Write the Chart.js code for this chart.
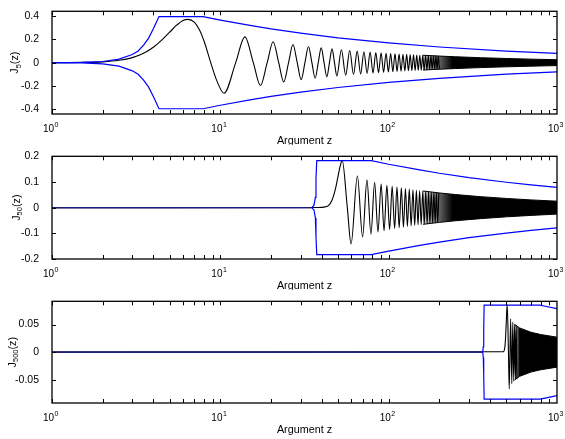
<!DOCTYPE html>
<html>
<head>
<meta charset="utf-8">
<script src="https://cdn.jsdelivr.net/npm/chart.js@4.4.1/dist/chart.umd.min.js"></script>
<style>
  body { margin: 0; background: #fff; width: 565px; height: 439px; overflow: hidden; }
  canvas { position: absolute; left: 0; }
</style>
</head>
<body>
<canvas id="c5" width="565" height="145" style="top:0"></canvas>
<canvas id="c50" width="565" height="145" style="top:145px"></canvas>
<canvas id="c500" width="565" height="145" style="top:290px"></canvas>
<script>
'use strict'

Chart.defaults.font.family = '"Liberation Sans", Arial, Helvetica, sans-serif';
Chart.defaults.font.size = 10.5;
Chart.defaults.color = '#000';

// x axis (log), major labels 10^k
const xMajor = [1, 10, 100, 1000];
const xMajorExp = ['0', '1', '2', '3'];

// J_5(z): curve points (rise, then extrema / zero crossings)
const j5X = [1, 1.5, 2, 2.5, 3, 3.5, 4, 4.5, 5, 5.5, 6, 6.42, 7, 7.5, 8, 8.77, 9.5,
  10.52, 12.34, 13.99, 15.7, 17.31, 18.98, 20.58, 22.22, 23.8, 25.43, 27.01, 28.63, 30.2, 31.81,
  33.39, 34.99, 36.57, 38.16, 39.74, 41.33, 42.91, 44.49, 46.07, 47.65, 49.23,
  52.38, 55.54, 58.69, 61.85, 65.0, 68.15, 71.3, 74.45, 77.6, 80.74, 83.89, 87.04, 90.18, 93.33,
  96.47, 99.62, 102.76, 105.91, 109.05, 112.2, 115.34, 118.48, 121.63, 124.77, 127.91, 131.06,
  134.2, 137.34, 140.49, 143.63, 146.77, 149.92, 153.06, 156.2, 159.35, 162.49, 165.63, 168.77,
  171.92, 175.06, 178.2, 181.35, 184.49, 187.63, 190.77, 193.92, 197.06, 200.2];
const j5Y = [0, 0.002, 0.007, 0.02, 0.043, 0.08, 0.132, 0.195, 0.261, 0.321, 0.362, 0.371, 0.348, 0.283, 0.186, 0, -0.15,
  -0.262, 0, 0.221, 0, -0.196, 0, 0.179, 0, -0.165, 0, 0.155, 0, -0.146, 0,
  0.139, 0, -0.133, 0, 0.127, 0, -0.122, 0, 0.118, 0, -0.114,
  0.110, -0.107, 0.104, -0.101, 0.099, -0.097, 0.094, -0.092, 0.091, -0.089, 0.087, -0.086, 0.084, -0.083,
  0.081, -0.080, 0.079, -0.078, 0.076, -0.075, 0.074, -0.073, 0.072, -0.071, 0.071, -0.070,
  0.069, -0.068, 0.067, -0.067, 0.066, -0.065, 0.064, -0.064, 0.063, -0.063, 0.062, -0.061,
  0.061, -0.060, 0.060, -0.059, 0.059, -0.058, 0.058, -0.057, 0.057, -0.056];
// dense part: half-width of the black band
const j5BandX = [160, 200, 250, 350, 500, 700, 1000];
const j5BandAmp = [0.0631, 0.0564, 0.0505, 0.0426, 0.0357, 0.0302, 0.0252];
// blue bound
const j5EnvX = [1, 1.5, 2, 2.5, 3, 3.25, 3.5, 3.75, 4, 4.15, 4.32, 7.9, 10, 15, 20, 30, 50, 100, 200, 500, 1000];
const j5EnvY = [0, 0.002, 0.01, 0.03, 0.07, 0.1, 0.15, 0.21, 0.29, 0.34, 0.395, 0.395, 0.365, 0.319, 0.289, 0.253, 0.213, 0.169, 0.134, 0.099, 0.079];
const j5YTicks = [-0.4, -0.2, 0, 0.2, 0.4];
const j5YLabels = ['-0.4', '-0.2', '0', '0.2', '0.4'];

// J_50(z)
const j50X = [1, 38, 42, 44, 46, 48, 50, 51.5, 53, 56.8, 59.8,
  65.2, 70.0, 74.3, 78.5, 82.5, 86.4, 90.2, 93.9, 97.6, 101.3,
  104.9, 108.5, 112.0, 115.5, 118.9, 122.4, 125.8, 129.2, 132.6, 136.0,
  139.4, 142.8, 146.1, 149.4, 152.7, 156.0, 159.4, 162.7, 166.0, 169.3,
  172.6, 175.8, 179.1, 182.4, 185.6, 188.9, 192.1, 195.4, 198.7];
const j50Y = [0, 0.0003, 0.003, 0.009, 0.028, 0.066, 0.121, 0.162, 0.183, 0, -0.141,
  0.123, -0.114, 0.108, -0.103, 0.099, -0.095, 0.092, -0.090, 0.087, -0.085,
  0.083, -0.081, 0.080, -0.078, 0.077, -0.076, 0.074, -0.073, 0.072, -0.071,
  0.070, -0.069, 0.068, -0.067, 0.066, -0.066, 0.065, -0.064, 0.063, -0.063,
  0.062, -0.062, 0.061, -0.060, 0.060, -0.059, 0.059, -0.058, 0.058];
const j50BandX = [160, 200, 250, 350, 500, 700, 1000];
const j50BandAmp = [0.0648, 0.0573, 0.0510, 0.0429, 0.0358, 0.0302, 0.0252];
const j50EnvX = [1, 34.9, 36.0, 36.7, 37.0, 37.4, 78.9, 100, 150, 200, 300, 500, 700, 1000];
const j50EnvY = [0, 0, 0.009, 0.04, 0.114, 0.183, 0.183, 0.169, 0.148, 0.134, 0.117, 0.099, 0.0885, 0.0786];
const j50YTicks = [-0.2, -0.1, 0, 0.1, 0.2];
const j50YLabels = ['-0.2', '-0.1', '0', '0.1', '0.2'];

// J_500(z)
const j500X = [1, 480, 490, 495, 500, 503, 506.4, 514.7, 520.5, 530.4, 538.8, 546.4, 553.5, 560.1, 566.3, 572.3, 578.0];
const j500Y = [0, 0.0007, 0.009, 0.027, 0.056, 0.075, 0.085, 0, -0.0665, 0.0604, -0.0568, 0.0543, -0.0525, 0.0509, -0.0497, 0.0487, -0.0477];
const j500BandX = [560, 600, 700, 800, 1000];
const j500BandAmp = [0.0502, 0.0438, 0.0360, 0.0319, 0.0271];
const j500EnvX = [1, 362, 365, 367, 369, 790, 850, 1000];
const j500EnvY = [0, 0, 0.01, 0.04, 0.085, 0.085, 0.0831, 0.0786];
const j500YTicks = [-0.05, 0, 0.05];
const j500YLabels = ['-0.05', '0', '0.05'];

const FONT = '"Liberation Sans", Arial, Helvetica, sans-serif';

const panels = [
  { id: 'c5', sub: '5', x: j5X, y: j5Y, bandX: j5BandX, band: j5BandAmp, envX: j5EnvX, env: j5EnvY,
    yMin: -0.44, yMax: 0.44, yTicks: j5YTicks, yLabels: j5YLabels, titleX: 18.3, xH: 31, fadeTo: 240 },
  { id: 'c50', sub: '50', x: j50X, y: j50Y, bandX: j50BandX, band: j50BandAmp, envX: j50EnvX, env: j50EnvY,
    yMin: -0.2, yMax: 0.2, yTicks: j50YTicks, yLabels: j50YLabels, titleX: 19.5, xH: 31, fadeTo: 240 },
  { id: 'c500', sub: '500', x: j500X, y: j500Y, bandX: j500BandX, band: j500BandAmp, envX: j500EnvX, env: j500EnvY,
    yMin: -0.092, yMax: 0.092, yTicks: j500YTicks, yLabels: j500YLabels, titleX: 15.5, xH: 32, fadeTo: 600 },
];

const pts = (xs, ys) => xs.map((x, i) => ({ x: x, y: ys[i] }));

// flat part where both bounds lie on the zero line looks navy
const flatNavy = c => (c.p0.parsed.y === 0 && c.p1.parsed.y === 0) ? '#1c1c78' : undefined;

// band gets darker as the oscillations pack together
const bandFill = p => c => {
  const ch = c.chart;
  if (!ch.chartArea) return '#000';
  const xs = ch.scales.x;
  const g = ch.ctx.createLinearGradient(xs.getPixelForValue(p.bandX[0]), 0, xs.getPixelForValue(p.fadeTo), 0);
  g.addColorStop(0, 'rgba(0,0,0,0.15)');
  g.addColorStop(1, 'rgba(0,0,0,1)');
  return g;
};

// box, inward ticks, 10^k labels and axis titles
const framePlugin = {
  id: 'frame',
  afterDraw(chart) {
    const ctx = chart.ctx, a = chart.chartArea;
    const xs = chart.scales.x, ys = chart.scales.y;
    const p = chart.options.plugins.frame;
    ctx.save();
    ctx.strokeStyle = '#000';
    ctx.lineWidth = 1;
    ctx.beginPath();
    for (let d = 1; d <= 100; d *= 10) {
      for (let m = 1; m <= 9; m++) {
        const px = Math.round(xs.getPixelForValue(m * d)) + 0.5;
        ctx.moveTo(px, a.top); ctx.lineTo(px, a.top + 4);
        ctx.moveTo(px, a.bottom); ctx.lineTo(px, a.bottom - 4);
      }
    }
    ys.ticks.forEach(t => {
      const py = Math.round(ys.getPixelForValue(t.value)) + 0.5;
      ctx.moveTo(a.left, py); ctx.lineTo(a.left + 4, py);
      ctx.moveTo(a.right, py); ctx.lineTo(a.right - 4, py);
    });
    ctx.stroke();
    ctx.lineWidth = 1.3;
    ctx.strokeRect(a.left, a.top, a.right - a.left, a.bottom - a.top);

    ctx.fillStyle = '#000';
    ctx.textBaseline = 'alphabetic';
    ctx.textAlign = 'left';
    xMajor.forEach((v, i) => {
      const px = xs.getPixelForValue(v);
      ctx.font = '10px ' + FONT;
      const w1 = ctx.measureText('10').width;
      ctx.font = '7px ' + FONT;
      const w2 = ctx.measureText(xMajorExp[i]).width;
      const x0 = px - (w1 + w2) / 2 - 1.5;
      ctx.font = '10px ' + FONT;
      ctx.fillText('10', x0, a.bottom + 17.5);
      ctx.font = '7px ' + FONT;
      ctx.fillText(xMajorExp[i], x0 + w1 + 0.5, a.bottom + 12.5);
    });

    ctx.font = '10.8px ' + FONT;
    ctx.textAlign = 'center';
    ctx.fillText('Argument z', (a.left + a.right) / 2, a.bottom + 30);

    // rotated J_n(z)
    ctx.translate(p.titleX, (a.top + a.bottom) / 2);
    ctx.rotate(-Math.PI / 2);
    ctx.textAlign = 'left';
    ctx.font = '10.8px ' + FONT;
    const wJ = ctx.measureText('J').width;
    const wT = ctx.measureText('(z)').width;
    ctx.font = '7.5px ' + FONT;
    const wS = ctx.measureText(p.sub).width;
    const s = -(wJ + wS + wT) / 2;
    ctx.font = '10.8px ' + FONT;
    ctx.fillText('J', s, 0);
    ctx.fillText('(z)', s + wJ + wS, 0);
    ctx.font = '7.5px ' + FONT;
    ctx.fillText(p.sub, s + wJ, 2.5);
    ctx.restore();
  }
};

panels.forEach(p => {
  new Chart(document.getElementById(p.id), {
    type: 'line',
    data: {
      datasets: [
        { data: pts(p.envX, p.env), borderColor: '#0000ff', borderWidth: 1.2, segment: { borderColor: flatNavy } },
        { data: pts(p.envX, p.env.map(v => -v)), borderColor: '#0000ff', borderWidth: 1.2, segment: { borderColor: flatNavy } },
        { data: pts(p.x, p.y), borderColor: '#000', borderWidth: 1.1, cubicInterpolationMode: 'monotone' },
        { data: pts(p.bandX, p.band), borderColor: '#000', borderWidth: 1 },
        { data: pts(p.bandX, p.band.map(v => -v)), borderColor: '#000', borderWidth: 1, fill: '-1', backgroundColor: bandFill(p) },
      ],
    },
    options: {
      responsive: false,
      animation: false,
      events: [],
      layout: { padding: { top: 5, right: 8, left: 0, bottom: 0 } },
      elements: { point: { radius: 0 }, line: { tension: 0 } },
      plugins: {
        legend: { display: false },
        tooltip: { enabled: false },
        frame: { sub: p.sub, titleX: p.titleX },
      },
      scales: {
        x: {
          type: 'logarithmic',
          min: 1,
          max: 1000,
          grid: { display: false },
          border: { display: false },
          ticks: { display: false },
          afterFit: s => { s.height = p.xH; },
        },
        y: {
          type: 'linear',
          min: p.yMin,
          max: p.yMax,
          bounds: 'data',
          grid: { display: false },
          border: { display: false },
          ticks: { padding: 5, callback: (v, i) => p.yLabels[i] },
          afterBuildTicks: s => { s.ticks = p.yTicks.map(v => ({ value: v })); },
          afterFit: s => { s.width = 52; },
        },
      },
    },
    plugins: [framePlugin],
  });
});
</script>
</body>
</html>
